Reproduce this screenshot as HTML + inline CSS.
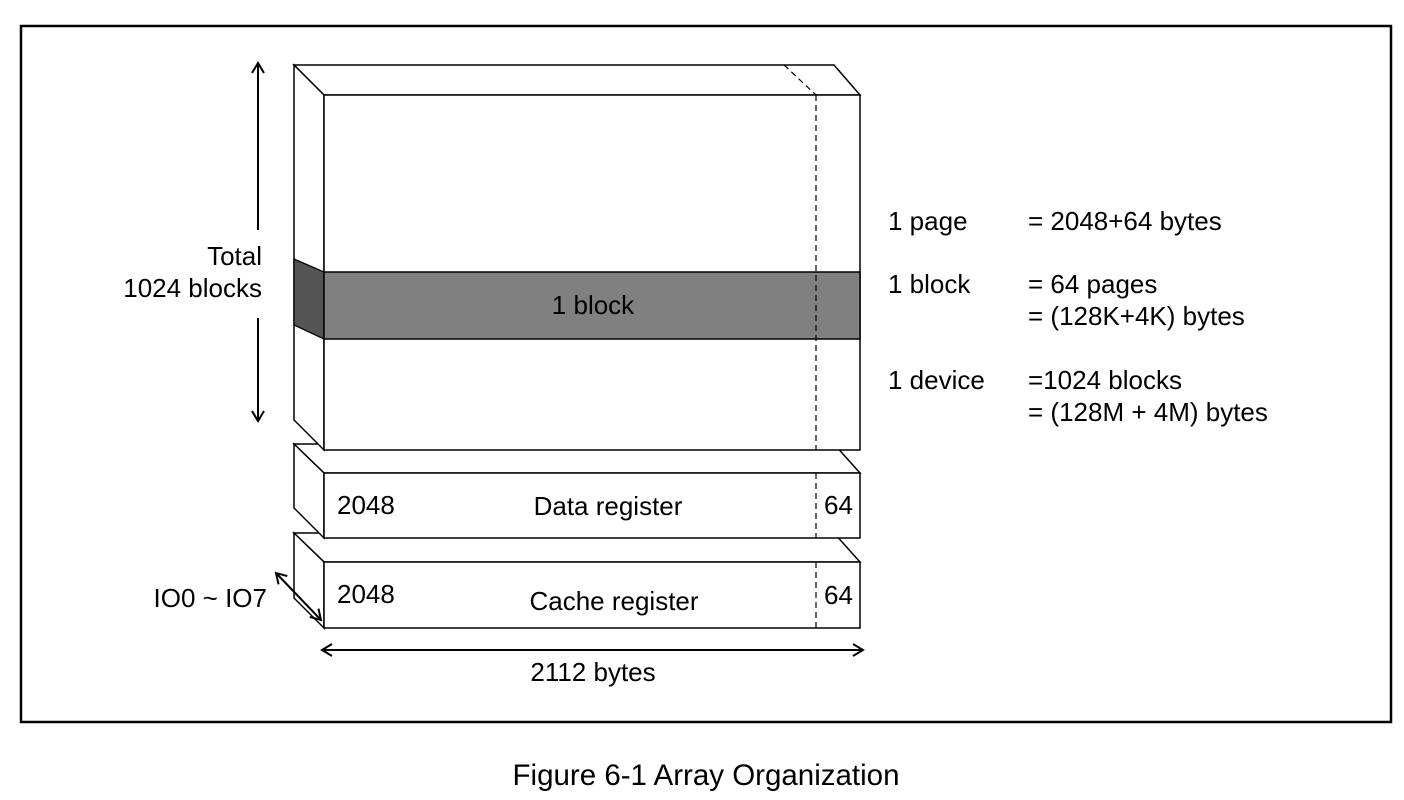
<!DOCTYPE html>
<html><head><meta charset="utf-8"><style>
html,body{margin:0;padding:0;background:#fff;}
svg{display:block;}
text{font-family:"Liberation Sans",Arial,sans-serif;fill:#000;}
</style></head><body>
<svg width="1404" height="800" viewBox="0 0 1404 800" xmlns="http://www.w3.org/2000/svg">
<defs>
<marker id="ah" markerWidth="14" markerHeight="14" refX="11" refY="7" orient="auto" markerUnits="userSpaceOnUse">
<path d="M1,1 L11,7 L1,13" fill="none" stroke="#000" stroke-width="2"/>
</marker>
</defs>
<rect x="21" y="26" width="1370" height="696" fill="none" stroke="#000" stroke-width="2.5"/>

<g stroke="#000" stroke-width="1.5" fill="#fff">
<polygon points="294,533 834,533 860,562 324,562"/>
<polygon points="294,533 324,562 324,628 294,598"/>
<rect x="324" y="562" width="536" height="66"/>
</g>
<line x1="816" y1="562" x2="816" y2="628" stroke="#000" stroke-width="1.2" stroke-dasharray="6,4"/>

<g stroke="#000" stroke-width="1.5" fill="#fff">
<polygon points="294,444 834,444 860,473 324,473"/>
<polygon points="294,444 324,473 324,538 294,508"/>
<rect x="324" y="473" width="536" height="65"/>
</g>
<line x1="816" y1="473" x2="816" y2="538" stroke="#000" stroke-width="1.2" stroke-dasharray="6,4"/>

<g stroke="#000" stroke-width="1.5" fill="#fff">
<polygon points="294,65 834,65 860,95 324,95"/>
<polygon points="294,65 324,95 324,450 294,420"/>
<rect x="324" y="95" width="536" height="355"/>
</g>
<polygon points="294,259 324,272 324,339 294,325" fill="#555" stroke="#000" stroke-width="1.3"/>
<rect x="324" y="272" width="536" height="67" fill="#808080" stroke="#000" stroke-width="1.5"/>
<line x1="784" y1="65" x2="816" y2="95" stroke="#000" stroke-width="1.2" stroke-dasharray="6,4"/>
<line x1="816" y1="95" x2="816" y2="450" stroke="#000" stroke-width="1.2" stroke-dasharray="6,4"/>

<g font-size="26">
<text x="593" y="314" text-anchor="middle">1 block</text>
<text x="337" y="514">2048</text>
<text x="608" y="515" text-anchor="middle">Data register</text>
<text x="824" y="514">64</text>
<text x="337" y="603">2048</text>
<text x="614" y="610" text-anchor="middle">Cache register</text>
<text x="824" y="604">64</text>

<text x="262" y="265" text-anchor="end">Total</text>
<text x="262" y="297" text-anchor="end">1024 blocks</text>
<text x="267" y="607" text-anchor="end">IO0 ~ IO7</text>
<text x="593" y="681" text-anchor="middle">2112 bytes</text>

<text x="888" y="230">1 page</text>
<text x="1028" y="230">= 2048+64 bytes</text>
<text x="888" y="293">1 block</text>
<text x="1028" y="293">= 64 pages</text>
<text x="1028" y="325">= (128K+4K) bytes</text>
<text x="888" y="389">1 device</text>
<text x="1028" y="389">=1024 blocks</text>
<text x="1028" y="421">= (128M + 4M) bytes</text>
</g>

<line x1="258" y1="230" x2="258" y2="63" stroke="#000" stroke-width="2" marker-end="url(#ah)"/>
<line x1="258" y1="318" x2="258" y2="421" stroke="#000" stroke-width="2" marker-end="url(#ah)"/>

<line x1="298" y1="596" x2="276" y2="573" stroke="#000" stroke-width="2" marker-end="url(#ah)"/>
<line x1="298" y1="596" x2="321" y2="620" stroke="#000" stroke-width="2" marker-end="url(#ah)"/>

<line x1="592" y1="650" x2="322" y2="650" stroke="#000" stroke-width="2" marker-end="url(#ah)"/>
<line x1="592" y1="650" x2="863" y2="650" stroke="#000" stroke-width="2" marker-end="url(#ah)"/>

<text x="706" y="785" font-size="29.5" text-anchor="middle">Figure 6-1 Array Organization</text>
</svg>
</body></html>
